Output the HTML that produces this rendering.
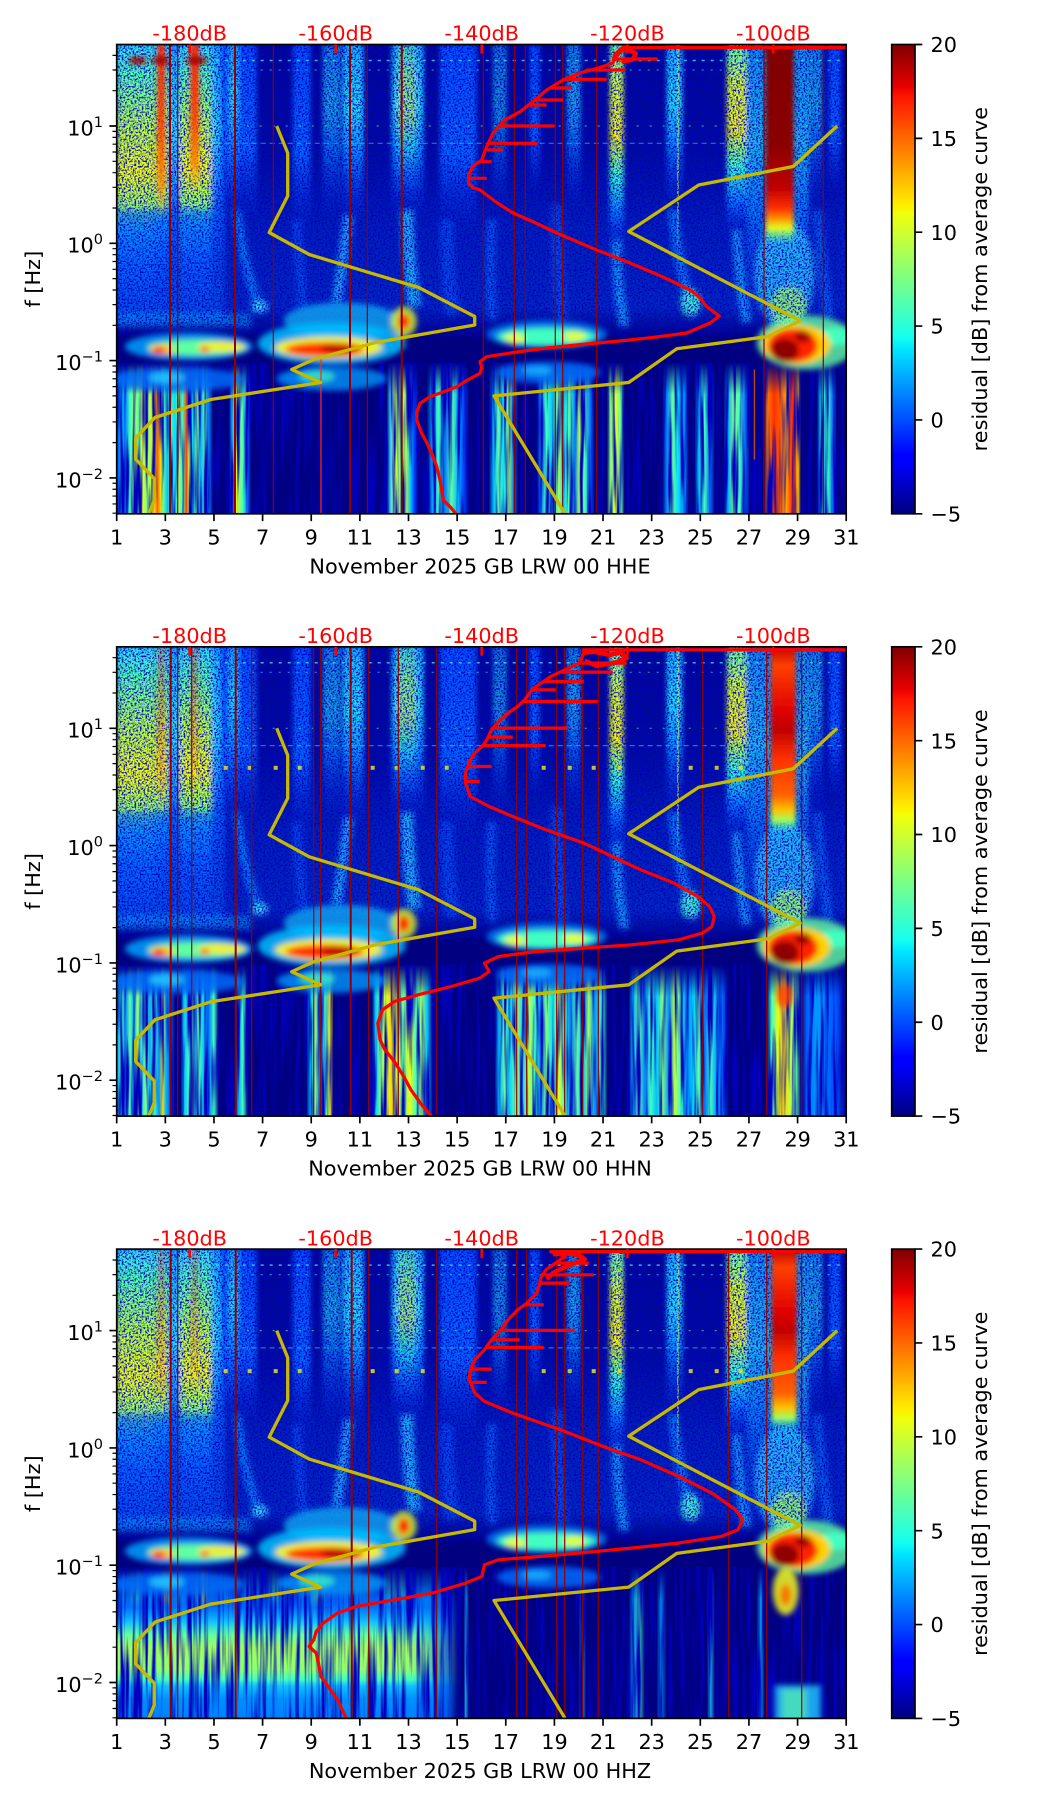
<!DOCTYPE html>
<html><head><meta charset="utf-8"><style>
html,body{margin:0;padding:0;background:#fff;}
svg{display:block;}
text{font-family:"DejaVu Sans","Liberation Sans",sans-serif;font-size:20.8px;fill:#000;}
</style></head><body>
<svg width="1052" height="1806" viewBox="0 0 1052 1806" xmlns="http://www.w3.org/2000/svg">
<defs>
<clipPath id="clip"><rect x="0" y="0" width="729.5" height="469.3"/></clipPath>
<linearGradient id="jet" x1="0" y1="1" x2="0" y2="0">
<stop offset="0" stop-color="#000080"/><stop offset=".11" stop-color="#0000ff"/><stop offset=".125" stop-color="#0000ff"/><stop offset=".34" stop-color="#00dbff"/><stop offset=".35" stop-color="#00e5ff"/><stop offset=".375" stop-color="#14fff0"/><stop offset=".64" stop-color="#f0ff0b"/><stop offset=".65" stop-color="#f7f600"/><stop offset=".66" stop-color="#ffec00"/><stop offset=".89" stop-color="#ff1300"/><stop offset=".91" stop-color="#e80000"/><stop offset="1" stop-color="#800000"/>
</linearGradient>
<linearGradient id="haze" gradientUnits="userSpaceOnUse" x1="0" y1="0" x2="0" y2="292">
<stop offset="0" stop-color="#0018c8" stop-opacity=".22"/><stop offset=".35" stop-color="#0028e0" stop-opacity=".28"/><stop offset=".62" stop-color="#0040f0" stop-opacity=".5"/><stop offset=".9" stop-color="#0050ff" stop-opacity=".5"/><stop offset="1" stop-color="#0050ff" stop-opacity="0"/>
</linearGradient>
<linearGradient id="gL" x1="0" y1="0" x2="0" y2="1">
<stop offset="0" stop-color="#30e0ff"/><stop offset=".1" stop-color="#50ffb0"/><stop offset=".28" stop-color="#b0ff50"/><stop offset=".45" stop-color="#f0ff10"/><stop offset=".58" stop-color="#90ff70"/><stop offset=".66" stop-color="#00c0ff"/><stop offset=".78" stop-color="#0060ff"/><stop offset="1" stop-color="#0040ff" stop-opacity="0"/>
</linearGradient>
<linearGradient id="gC" x1="0" y1="0" x2="0" y2="1">
<stop offset="0" stop-color="#10b0ff"/><stop offset=".35" stop-color="#20e0ff"/><stop offset=".6" stop-color="#0090ff"/><stop offset="1" stop-color="#0040ff" stop-opacity="0"/>
</linearGradient>
<linearGradient id="gB" x1="0" y1="0" x2="0" y2="1">
<stop offset="0" stop-color="#0050ff"/><stop offset=".6" stop-color="#0064ff"/><stop offset="1" stop-color="#0040ff" stop-opacity="0"/>
</linearGradient>
<linearGradient id="gY" x1="0" y1="0" x2="0" y2="1">
<stop offset="0" stop-color="#60ffa0"/><stop offset=".2" stop-color="#d0ff30"/><stop offset=".45" stop-color="#f0f010"/><stop offset=".65" stop-color="#30ffd0"/><stop offset=".82" stop-color="#0080ff"/><stop offset="1" stop-color="#0040ff" stop-opacity="0"/>
</linearGradient>
<linearGradient id="gCore" x1="0" y1="0" x2="0" y2="1">
<stop offset="0" stop-color="#ff2000"/><stop offset=".5" stop-color="#ff4000"/><stop offset=".8" stop-color="#ff9000"/><stop offset="1" stop-color="#ffd000" stop-opacity="0"/>
</linearGradient>
<linearGradient id="gR1" x1="0" y1="0" x2="0" y2="1">
<stop offset="0" stop-color="#800000"/><stop offset=".5" stop-color="#8a0000"/><stop offset=".72" stop-color="#c00000"/><stop offset=".82" stop-color="#ff3000"/><stop offset=".87" stop-color="#ff9000"/><stop offset=".92" stop-color="#e0ff20"/><stop offset="1" stop-color="#40ffc0" stop-opacity="0"/>
</linearGradient>
<linearGradient id="gR2" x1="0" y1="0" x2="0" y2="1">
<stop offset="0" stop-color="#c00000"/><stop offset=".1" stop-color="#ff4000"/><stop offset=".35" stop-color="#e00000"/><stop offset=".45" stop-color="#c00000"/><stop offset=".6" stop-color="#ff3000"/><stop offset=".8" stop-color="#ff6000"/><stop offset=".88" stop-color="#ffc000"/><stop offset=".94" stop-color="#a0ff60"/><stop offset="1" stop-color="#40ffc0" stop-opacity="0"/>
</linearGradient>
<linearGradient id="mloG" gradientUnits="userSpaceOnUse" x1="0" y1="318" x2="0" y2="350">
<stop offset="0" stop-color="#fff" stop-opacity="0"/><stop offset="1" stop-color="#fff" stop-opacity="1"/>
</linearGradient>
<mask id="mlo" maskUnits="userSpaceOnUse" x="0" y="0" width="729.5" height="469.3"><rect x="0" y="300" width="729.5" height="170" fill="url(#mloG)"/></mask>
<linearGradient id="mblG" gradientUnits="userSpaceOnUse" x1="295" y1="0" x2="345" y2="0">
<stop offset="0" stop-color="#fff" stop-opacity="1"/><stop offset="1" stop-color="#fff" stop-opacity="0"/>
</linearGradient>
<mask id="mbl" maskUnits="userSpaceOnUse" x="0" y="0" width="729.5" height="469.3"><rect x="0" y="330" width="360" height="140" fill="url(#mblG)"/></mask>
<linearGradient id="bl3" gradientUnits="userSpaceOnUse" x1="0" y1="340" x2="0" y2="469.3">
<stop offset="0" stop-color="#0060ff" stop-opacity="0"/><stop offset=".14" stop-color="#0070ff" stop-opacity=".9"/><stop offset=".25" stop-color="#10c0ff"/><stop offset=".35" stop-color="#60ffa0"/><stop offset=".45" stop-color="#a0ff60"/><stop offset=".62" stop-color="#90ff70"/><stop offset=".7" stop-color="#40ffc0"/><stop offset=".75" stop-color="#10c0ff"/><stop offset=".85" stop-color="#0090ff"/><stop offset="1" stop-color="#0080ff"/>
</linearGradient>
<linearGradient id="lo1" gradientUnits="userSpaceOnUse" x1="0" y1="0" x2="729.5" y2="0">
<stop offset="0%" stop-color="#0040ff"/><stop offset="0.7%" stop-color="#00c0ff"/><stop offset="1.2%" stop-color="#0080ff"/><stop offset="1.8%" stop-color="#40ffc0"/><stop offset="2.5%" stop-color="#a0ff60"/><stop offset="3.0%" stop-color="#60ffa0"/><stop offset="3.6%" stop-color="#e0ff20"/><stop offset="4.1%" stop-color="#80ff80"/><stop offset="4.7%" stop-color="#c0ff40"/><stop offset="5.2%" stop-color="#ffd000"/><stop offset="5.6%" stop-color="#ff6000"/><stop offset="6.0%" stop-color="#ffe000"/><stop offset="6.4%" stop-color="#60ffa0"/><stop offset="7.0%" stop-color="#00c0ff"/><stop offset="7.4%" stop-color="#40ffc0"/><stop offset="8.0%" stop-color="#00e0ff"/><stop offset="8.5%" stop-color="#a0ff60"/><stop offset="9.0%" stop-color="#40ffc0"/><stop offset="9.6%" stop-color="#ff4000"/><stop offset="9.9%" stop-color="#c0ff40"/><stop offset="10.4%" stop-color="#00e0ff"/><stop offset="11.0%" stop-color="#80ff80"/><stop offset="11.5%" stop-color="#00b0ff"/><stop offset="12.1%" stop-color="#60ffa0"/><stop offset="12.6%" stop-color="#0080ff"/><stop offset="13.2%" stop-color="#000080"/><stop offset="15.4%" stop-color="#000080"/><stop offset="15.8%" stop-color="#00a0ff"/><stop offset="16.4%" stop-color="#e0ff20"/><stop offset="17.3%" stop-color="#40ffc0"/><stop offset="18.0%" stop-color="#0060ff"/><stop offset="18.4%" stop-color="#000080"/><stop offset="37.0%" stop-color="#000080"/><stop offset="37.6%" stop-color="#40e0ff"/><stop offset="38.2%" stop-color="#e0ff20"/><stop offset="38.9%" stop-color="#60ffa0"/><stop offset="39.6%" stop-color="#c0ff40"/><stop offset="40.3%" stop-color="#00c0ff"/><stop offset="40.8%" stop-color="#0040ff"/><stop offset="41.4%" stop-color="#000080"/><stop offset="42.5%" stop-color="#000080"/><stop offset="43.3%" stop-color="#00a0ff"/><stop offset="44.1%" stop-color="#40ffc0"/><stop offset="45.0%" stop-color="#0080ff"/><stop offset="45.9%" stop-color="#60ffa0"/><stop offset="46.7%" stop-color="#00c0ff"/><stop offset="47.6%" stop-color="#0040ff"/><stop offset="48.3%" stop-color="#000080"/><stop offset="51.0%" stop-color="#000080"/><stop offset="51.7%" stop-color="#00c0ff"/><stop offset="52.4%" stop-color="#60ffa0"/><stop offset="53.0%" stop-color="#00e0ff"/><stop offset="53.7%" stop-color="#a0ff60"/><stop offset="54.4%" stop-color="#0080ff"/><stop offset="55.0%" stop-color="#000080"/><stop offset="57.6%" stop-color="#000080"/><stop offset="58.1%" stop-color="#0080ff"/><stop offset="58.9%" stop-color="#40ffc0"/><stop offset="59.8%" stop-color="#00c0ff"/><stop offset="60.6%" stop-color="#a0ff60"/><stop offset="61.3%" stop-color="#00e0ff"/><stop offset="62.0%" stop-color="#60ffa0"/><stop offset="62.8%" stop-color="#0090ff"/><stop offset="63.5%" stop-color="#c0ff40"/><stop offset="64.2%" stop-color="#40ffc0"/><stop offset="65.0%" stop-color="#0060ff"/><stop offset="65.5%" stop-color="#000080"/><stop offset="67.2%" stop-color="#000080"/><stop offset="67.7%" stop-color="#80ff80"/><stop offset="68.4%" stop-color="#e0ff20"/><stop offset="69.1%" stop-color="#60ffa0"/><stop offset="69.6%" stop-color="#000080"/><stop offset="74.8%" stop-color="#000080"/><stop offset="75.4%" stop-color="#0080ff"/><stop offset="76.2%" stop-color="#60ffa0"/><stop offset="77.0%" stop-color="#00e0ff"/><stop offset="77.9%" stop-color="#0080ff"/><stop offset="78.4%" stop-color="#000080"/><stop offset="79.2%" stop-color="#000080"/><stop offset="79.8%" stop-color="#00c0ff"/><stop offset="80.6%" stop-color="#40ffc0"/><stop offset="81.4%" stop-color="#0060ff"/><stop offset="82.0%" stop-color="#000080"/><stop offset="83.2%" stop-color="#000080"/><stop offset="83.8%" stop-color="#00b0ff"/><stop offset="84.6%" stop-color="#80ff80"/><stop offset="85.4%" stop-color="#40ffc0"/><stop offset="86.2%" stop-color="#0060ff"/><stop offset="86.8%" stop-color="#000080"/><stop offset="88.8%" stop-color="#000080"/><stop offset="89.2%" stop-color="#ff8000"/><stop offset="90.1%" stop-color="#ff3000"/><stop offset="91.0%" stop-color="#ff6000"/><stop offset="91.8%" stop-color="#ffa000"/><stop offset="92.7%" stop-color="#ff2000"/><stop offset="93.4%" stop-color="#ffc000"/><stop offset="93.8%" stop-color="#000080"/><stop offset="96.0%" stop-color="#000080"/><stop offset="96.5%" stop-color="#00c0ff"/><stop offset="97.5%" stop-color="#40ffc0"/><stop offset="98.2%" stop-color="#0060ff"/><stop offset="98.7%" stop-color="#000080"/><stop offset="100%" stop-color="#000080"/>
</linearGradient>
<linearGradient id="lo2" gradientUnits="userSpaceOnUse" x1="0" y1="0" x2="729.5" y2="0">
<stop offset="0%" stop-color="#00a0ff"/><stop offset="0.7%" stop-color="#40ffc0"/><stop offset="1.2%" stop-color="#0080ff"/><stop offset="1.8%" stop-color="#60ffa0"/><stop offset="2.3%" stop-color="#00c0ff"/><stop offset="2.9%" stop-color="#a0ff60"/><stop offset="3.4%" stop-color="#20e0ff"/><stop offset="4.0%" stop-color="#80ff80"/><stop offset="4.5%" stop-color="#00b0ff"/><stop offset="5.2%" stop-color="#40ffc0"/><stop offset="5.8%" stop-color="#0090ff"/><stop offset="6.3%" stop-color="#ffe000"/><stop offset="6.7%" stop-color="#00c0ff"/><stop offset="7.3%" stop-color="#0060ff"/><stop offset="8.0%" stop-color="#000080"/><stop offset="8.8%" stop-color="#000080"/><stop offset="9.2%" stop-color="#00c0ff"/><stop offset="9.9%" stop-color="#40ffc0"/><stop offset="10.6%" stop-color="#0090ff"/><stop offset="11.2%" stop-color="#60ffa0"/><stop offset="11.9%" stop-color="#00d0ff"/><stop offset="12.6%" stop-color="#0070ff"/><stop offset="13.3%" stop-color="#40ffc0"/><stop offset="14.0%" stop-color="#000080"/><stop offset="16.2%" stop-color="#000080"/><stop offset="16.6%" stop-color="#00a0ff"/><stop offset="17.3%" stop-color="#40ffc0"/><stop offset="18.0%" stop-color="#000080"/><stop offset="26.0%" stop-color="#000080"/><stop offset="26.6%" stop-color="#00c0ff"/><stop offset="27.3%" stop-color="#80ff80"/><stop offset="28.0%" stop-color="#0080ff"/><stop offset="28.6%" stop-color="#40ffc0"/><stop offset="29.3%" stop-color="#ffe000"/><stop offset="29.7%" stop-color="#000080"/><stop offset="35.0%" stop-color="#000080"/><stop offset="35.5%" stop-color="#00d0ff"/><stop offset="36.2%" stop-color="#80ff80"/><stop offset="37.0%" stop-color="#e0ff20"/><stop offset="37.8%" stop-color="#ffd000"/><stop offset="38.5%" stop-color="#c0ff40"/><stop offset="39.3%" stop-color="#60ffa0"/><stop offset="40.2%" stop-color="#f0ff10"/><stop offset="41.0%" stop-color="#40ffc0"/><stop offset="41.8%" stop-color="#a0ff60"/><stop offset="42.6%" stop-color="#00c0ff"/><stop offset="43.3%" stop-color="#000080"/><stop offset="51.8%" stop-color="#000080"/><stop offset="52.4%" stop-color="#00b0ff"/><stop offset="53.2%" stop-color="#60ffa0"/><stop offset="54.0%" stop-color="#00e0ff"/><stop offset="54.8%" stop-color="#a0ff60"/><stop offset="55.7%" stop-color="#20d0ff"/><stop offset="56.5%" stop-color="#c0ff40"/><stop offset="57.3%" stop-color="#40ffc0"/><stop offset="58.1%" stop-color="#0090ff"/><stop offset="58.9%" stop-color="#80ff80"/><stop offset="59.8%" stop-color="#00e0ff"/><stop offset="60.6%" stop-color="#e0ff20"/><stop offset="61.4%" stop-color="#40ffc0"/><stop offset="62.2%" stop-color="#0080ff"/><stop offset="63.1%" stop-color="#60ffa0"/><stop offset="63.9%" stop-color="#00c0ff"/><stop offset="64.7%" stop-color="#a0ff60"/><stop offset="65.5%" stop-color="#0090ff"/><stop offset="66.5%" stop-color="#40ffc0"/><stop offset="67.3%" stop-color="#000080"/><stop offset="70.2%" stop-color="#000080"/><stop offset="70.7%" stop-color="#00a0ff"/><stop offset="71.6%" stop-color="#60ffa0"/><stop offset="72.4%" stop-color="#0080ff"/><stop offset="73.2%" stop-color="#40ffc0"/><stop offset="74.0%" stop-color="#00c0ff"/><stop offset="74.8%" stop-color="#80ff80"/><stop offset="75.7%" stop-color="#0090ff"/><stop offset="76.5%" stop-color="#c0ff40"/><stop offset="77.3%" stop-color="#40ffc0"/><stop offset="78.1%" stop-color="#0080ff"/><stop offset="79.0%" stop-color="#00d0ff"/><stop offset="79.8%" stop-color="#60ffa0"/><stop offset="80.6%" stop-color="#0070ff"/><stop offset="81.4%" stop-color="#40ffc0"/><stop offset="82.2%" stop-color="#00a0ff"/><stop offset="83.1%" stop-color="#0060ff"/><stop offset="83.9%" stop-color="#000080"/><stop offset="89.1%" stop-color="#000080"/><stop offset="89.8%" stop-color="#40ffc0"/><stop offset="90.6%" stop-color="#e0ff20"/><stop offset="91.4%" stop-color="#ffd000"/><stop offset="92.3%" stop-color="#c0ff40"/><stop offset="93.1%" stop-color="#60ffa0"/><stop offset="93.8%" stop-color="#000080"/><stop offset="94.6%" stop-color="#0060ff"/><stop offset="96.0%" stop-color="#00a0ff"/><stop offset="97.3%" stop-color="#0070ff"/><stop offset="98.7%" stop-color="#0050ff"/><stop offset="100%" stop-color="#000080"/>
</linearGradient>
<linearGradient id="lo3" gradientUnits="userSpaceOnUse" x1="0" y1="0" x2="729.5" y2="0">
<stop offset="0%" stop-color="#0060ff"/><stop offset="0.8%" stop-color="#00c0ff"/><stop offset="1.6%" stop-color="#0070ff"/><stop offset="2.7%" stop-color="#40ffc0"/><stop offset="3.6%" stop-color="#0080ff"/><stop offset="4.7%" stop-color="#00c0ff"/><stop offset="5.8%" stop-color="#0070ff"/><stop offset="6.6%" stop-color="#ffa000"/><stop offset="7.1%" stop-color="#e0ff20"/><stop offset="7.7%" stop-color="#0090ff"/><stop offset="8.8%" stop-color="#00c0ff"/><stop offset="9.9%" stop-color="#0060ff"/><stop offset="11.2%" stop-color="#40ffc0"/><stop offset="12.1%" stop-color="#ffe000"/><stop offset="12.6%" stop-color="#0080ff"/><stop offset="13.7%" stop-color="#0060ff"/><stop offset="15.1%" stop-color="#00a0ff"/><stop offset="16.4%" stop-color="#0060ff"/><stop offset="18.5%" stop-color="#00b0ff"/><stop offset="20.6%" stop-color="#0060ff"/><stop offset="21.9%" stop-color="#40ffc0"/><stop offset="22.8%" stop-color="#0070ff"/><stop offset="24.7%" stop-color="#0060ff"/><stop offset="26.7%" stop-color="#00c0ff"/><stop offset="27.8%" stop-color="#e0ff20"/><stop offset="28.5%" stop-color="#0070ff"/><stop offset="30.2%" stop-color="#0060ff"/><stop offset="32.9%" stop-color="#00a0ff"/><stop offset="35.6%" stop-color="#0060ff"/><stop offset="38.4%" stop-color="#40ffc0"/><stop offset="40.4%" stop-color="#0070ff"/><stop offset="42.5%" stop-color="#00a0ff"/><stop offset="45.2%" stop-color="#0060ff"/><stop offset="46.6%" stop-color="#000080"/><stop offset="47.6%" stop-color="#000080"/><stop offset="47.8%" stop-color="#20d0ff"/><stop offset="48.3%" stop-color="#000080"/><stop offset="63.3%" stop-color="#000080"/><stop offset="63.9%" stop-color="#00c0ff"/><stop offset="64.3%" stop-color="#000080"/><stop offset="70.2%" stop-color="#000080"/><stop offset="70.7%" stop-color="#0090ff"/><stop offset="71.6%" stop-color="#40ffc0"/><stop offset="72.4%" stop-color="#000080"/><stop offset="74.0%" stop-color="#000080"/><stop offset="74.6%" stop-color="#00a0ff"/><stop offset="75.4%" stop-color="#000080"/><stop offset="80.9%" stop-color="#000080"/><stop offset="81.4%" stop-color="#20d0ff"/><stop offset="82.0%" stop-color="#000080"/><stop offset="87.7%" stop-color="#000080"/><stop offset="88.3%" stop-color="#00c0ff"/><stop offset="88.8%" stop-color="#000080"/><stop offset="100%" stop-color="#000080"/>
</linearGradient>
<filter id="bh" x="-10%" y="-10%" width="120%" height="120%"><feGaussianBlur stdDeviation="2.5 1.5"/></filter>
<filter id="b3" x="-20%" y="-20%" width="140%" height="140%"><feGaussianBlur stdDeviation="3"/></filter>
<filter id="spk" filterUnits="userSpaceOnUse" x="0" y="0" width="729.5" height="292">
<feTurbulence type="fractalNoise" baseFrequency="0.55" numOctaves="2" seed="4"/>
<feColorMatrix type="matrix" values="0 0 0 0 0  0 0 0 0 0  0 0 0 0 0.5  -4 0 0 0 2.2"/>
</filter>
<filter id="stk" filterUnits="userSpaceOnUse" x="0" y="318" width="729.5" height="152">
<feTurbulence type="fractalNoise" baseFrequency="0.25 0.01" numOctaves="2" seed="9"/>
<feColorMatrix type="matrix" values="0 0 0 0 0  0 0 0 0 0  0 0 0 0 0.5  -3.5 0 0 0 2.0"/>
</filter>

<g id="upper">
<rect width="729.5" height="469.3" fill="#000080"/>
<rect width="729.5" height="292" fill="url(#haze)"/>
<g filter="url(#bh)">
<rect x="0" y="0" width="38" height="285" fill="url(#gL)"/>
<rect x="38" y="0" width="14" height="270" fill="url(#gL)"/>
<rect x="52" y="0" width="11" height="240" fill="url(#gC)"/>
<rect x="63" y="0" width="32" height="275" fill="url(#gL)"/>
<rect x="95" y="0" width="12" height="230" fill="url(#gC)"/>
<rect x="104" y="0" width="36" height="175" fill="url(#gB)"/>
<rect x="112" y="0" width="10" height="165" fill="url(#gC)"/>
<rect x="176" y="0" width="18" height="185" fill="url(#gB)"/>
<rect x="206" y="0" width="18" height="175" fill="url(#gC)" opacity=".7"/>
<rect x="226" y="0" width="21" height="180" fill="url(#gC)"/>
<rect x="275" y="0" width="32" height="175" fill="url(#gC)"/>
<rect x="281" y="0" width="18" height="160" fill="url(#gY)" opacity=".55"/>
<rect x="323" y="0" width="37" height="185" fill="url(#gB)"/>
<rect x="376" y="0" width="14" height="165" fill="url(#gC)" opacity=".6"/>
<rect x="413" y="0" width="10" height="150" fill="url(#gB)"/>
<rect x="450" y="0" width="14" height="165" fill="url(#gC)" opacity=".7"/>
<rect x="493" y="0" width="14" height="205" fill="url(#gY)"/>
<rect x="550" y="0" width="16" height="165" fill="url(#gC)"/>
<rect x="610" y="0" width="20" height="190" fill="url(#gY)"/>
<rect x="630" y="0" width="62" height="280" fill="url(#gC)" opacity=".8"/>
<rect x="692" y="0" width="14" height="165" fill="url(#gC)" opacity=".7"/>
<rect x="712" y="0" width="12" height="150" fill="url(#gB)"/>
</g>
<rect x="560.5" y="0" width="1.5" height="200" fill="#e0e040" opacity=".8"/>
<g filter="url(#b3)" fill="none">
<rect x="0" y="165" width="108" height="112" fill="#0068ff" opacity=".55"/>
<rect x="0" y="268" width="135" height="15" fill="#00b0ff" opacity=".5"/>
<path d="M120 165Q128 230 143 262" stroke="#0090ff" stroke-width="9" opacity=".8"/>
<ellipse cx="143" cy="262" rx="8" ry="6" fill="#30e0ff"/>
<path d="M232 170Q225 225 220 258" stroke="#20c0ff" stroke-width="10" opacity=".8"/>
<path d="M290 165Q292 225 298 262" stroke="#20d0ff" stroke-width="13" opacity=".8"/>
<path d="M375 175Q372 230 376 275" stroke="#0070ff" stroke-width="9" opacity=".7"/>
<path d="M500 195Q500 245 508 282" stroke="#10b0ff" stroke-width="10" opacity=".8"/>
<path d="M556 165Q562 220 572 255" stroke="#0090ff" stroke-width="10" opacity=".8"/>
<ellipse cx="574" cy="258" rx="10" ry="14" fill="#40ffd0" opacity=".9"/>
<path d="M620 185Q622 235 630 278" stroke="#10b0ff" stroke-width="10" opacity=".8"/>
<path d="M440 160Q440 220 445 275" stroke="#0060ff" stroke-width="12" opacity=".6"/>
<path d="M330 175Q330 225 336 270" stroke="#0060ff" stroke-width="14" opacity=".6"/>
<path d="M180 175Q183 225 186 265" stroke="#0060ff" stroke-width="10" opacity=".6"/>
<path d="M700 165Q705 220 712 275" stroke="#0080ff" stroke-width="10" opacity=".6"/>
<ellipse cx="668" cy="230" rx="30" ry="55" fill="#30e0ff" opacity=".7"/>
<ellipse cx="672" cy="262" rx="18" ry="20" fill="#a0ff60" opacity=".8"/>
</g>
<rect width="729.5" height="292" filter="url(#spk)"/>
<g fill="none">
<line x1="0" y1="16" x2="729.5" y2="16" stroke="#40e0ff" stroke-width="1.5" stroke-dasharray="3 6" opacity=".8"/>
<line x1="0" y1="25.5" x2="729.5" y2="25.5" stroke="#20c0ff" stroke-width="1.2" stroke-dasharray="2 7" opacity=".7"/>
<line x1="0" y1="81.5" x2="729.5" y2="81.5" stroke="#60ffa0" stroke-width="1.2" stroke-dasharray="2 11" opacity=".6"/>
<line x1="0" y1="98.8" x2="729.5" y2="98.8" stroke="#30c0ff" stroke-width="1.2" stroke-dasharray="5 4" opacity=".6"/>
</g>
</g>

<g id="band" filter="url(#b3)">
<ellipse cx="60" cy="335" rx="68" ry="12" fill="#0070ff" opacity=".8"/>
<ellipse cx="50" cy="333" rx="18" ry="6" fill="#20d0ff" opacity=".8"/>
<ellipse cx="215" cy="334" rx="55" ry="12" fill="#00a0ff" opacity=".75"/>
<ellipse cx="200" cy="332" rx="18" ry="6" fill="#40ffc0" opacity=".7"/>
<ellipse cx="432" cy="328" rx="52" ry="11" fill="#0070ff" opacity=".8"/>
<ellipse cx="420" cy="326" rx="15" ry="5" fill="#20c0ff" opacity=".7"/>
<ellipse cx="72" cy="302" rx="64" ry="14" fill="#00a0ff" opacity=".85"/>
<ellipse cx="80" cy="303" rx="50" ry="8" fill="#60ffa0"/>
<ellipse cx="105" cy="302" rx="24" ry="5" fill="#f0f020"/>
<ellipse cx="45" cy="305" rx="12" ry="5" fill="#ffc000"/>
<ellipse cx="42" cy="306" rx="6" ry="3.5" fill="#ff2000"/>
<ellipse cx="88" cy="305" rx="5" ry="3" fill="#ff5000"/>
<ellipse cx="225" cy="276" rx="58" ry="18" fill="#10c8ff" opacity=".65"/>
<ellipse cx="215" cy="299" rx="74" ry="21" fill="#00c0ff" opacity=".85"/>
<ellipse cx="212" cy="303" rx="54" ry="11" fill="#f0f020"/>
<ellipse cx="208" cy="305" rx="39" ry="7" fill="#ff3000"/>
<ellipse cx="222" cy="304" rx="18" ry="5" fill="#c00000"/>
<ellipse cx="287" cy="277" rx="13" ry="15" fill="#e0ff20" opacity=".8"/>
<ellipse cx="287" cy="277" rx="6" ry="8" fill="#ff2000"/>
<ellipse cx="430" cy="290" rx="60" ry="14" fill="#0090ff" opacity=".75"/>
<ellipse cx="430" cy="292" rx="50" ry="9" fill="#40ffc0"/>
<ellipse cx="398" cy="294" rx="10" ry="5" fill="#e0ff30"/>
<ellipse cx="458" cy="292" rx="11" ry="5" fill="#e0ff30"/>
<ellipse cx="690" cy="298" rx="50" ry="27" fill="#60ffa0" opacity=".8"/>
<ellipse cx="718" cy="292" rx="20" ry="9" fill="#40ffc0"/>
<ellipse cx="680" cy="300" rx="34" ry="20" fill="#ffd000"/>
<ellipse cx="676" cy="301" rx="25" ry="17" fill="#ff2000"/>
<ellipse cx="668" cy="306" rx="14" ry="12" fill="#900000"/>
<ellipse cx="686" cy="292" rx="8" ry="6" fill="#a00000"/>
</g>

<g id="models" fill="none" stroke="#c8b900" stroke-width="3.3" stroke-linejoin="round">
<polyline points="160,81.5 171,108.5 171,151.5 152.5,188 192.5,210 302,243 358,272 358,280.5 258.7,298 197,315 175,325 204,338 94,355 38.3,373 19,393.5 19,414.7 37.5,434 37.5,456 31,472"/>
<polyline points="720.5,81.5 676.5,122 582,140.5 512,187 683.5,276.3 651.5,292 560,304.3 512,338 377.3,351.4 450,472"/>
</g>

<g id="axes">
<path d="M-4.2 10.88H0M-4.2 25.53H0M-4.2 46.19H0M-4.2 86.87H0M-4.2 92.87H0M-4.2 99.67H0M-4.2 107.52H0M-4.2 116.81H0M-4.2 128.18H0M-4.2 142.83H0M-4.2 163.49H0M-4.2 204.17H0M-4.2 210.17H0M-4.2 216.97H0M-4.2 224.82H0M-4.2 234.11H0M-4.2 245.48H0M-4.2 260.13H0M-4.2 280.79H0M-4.2 321.47H0M-4.2 327.47H0M-4.2 334.27H0M-4.2 342.12H0M-4.2 351.41H0M-4.2 362.78H0M-4.2 377.43H0M-4.2 398.09H0M-4.2 438.77H0M-4.2 444.77H0M-4.2 451.57H0M-4.2 459.42H0M-4.2 468.71H0" stroke="#000" stroke-width="1.2"/>
<path d="M-7.3 81.5H0M-7.3 198.8H0M-7.3 316.1H0M-7.3 433.4H0" stroke="#000" stroke-width="1.67"/>
<path d="M0 469.3v7.3M48.63 469.3v7.3M97.27 469.3v7.3M145.9 469.3v7.3M194.53 469.3v7.3M243.17 469.3v7.3M291.8 469.3v7.3M340.43 469.3v7.3M389.07 469.3v7.3M437.7 469.3v7.3M486.33 469.3v7.3M534.97 469.3v7.3M583.6 469.3v7.3M632.23 469.3v7.3M680.87 469.3v7.3M729.5 469.3v7.3" stroke="#000" stroke-width="1.67"/>
<rect x="0" y="0" width="729.5" height="469.3" fill="none" stroke="#000" stroke-width="1.67"/>
<path d="M73 0v9M219 0v9M365 0v9M510.7 0v9M656.6 0v9" stroke="#ff0000" stroke-width="2.5"/>
</g>

<g id="cbar">
<rect x="0" y="0" width="23.3" height="469.3" fill="url(#jet)" stroke="#000" stroke-width="1.67"/>
<path d="M23.3 0h7.3M23.3 93.86h7.3M23.3 187.72h7.3M23.3 281.58h7.3M23.3 375.44h7.3M23.3 469.3h7.3" stroke="#000" stroke-width="1.67"/>
</g>
</defs>

<!-- ================= PANEL 1 ================= -->
<g transform="translate(116.7,44.5)">
<g clip-path="url(#clip)">
<use href="#upper"/>
<g filter="url(#bh)">
<rect x="41" y="0" width="7" height="175" fill="url(#gCore)"/>
<rect x="74" y="0" width="8" height="150" fill="url(#gCore)"/>
<rect x="649" y="0" width="28" height="200" fill="url(#gR1)"/>
</g>
<g filter="url(#b3)">
<ellipse cx="21" cy="16" rx="9" ry="4" fill="#a00000"/>
<ellipse cx="44" cy="16" rx="9" ry="4" fill="#a00000"/>
<ellipse cx="80" cy="16" rx="11" ry="4" fill="#a00000"/>
</g>
<rect x="0" y="300" width="729.5" height="170" fill="url(#lo1)" mask="url(#mlo)"/>
<rect x="0" y="318" width="729.5" height="152" filter="url(#stk)"/>
<use href="#band"/>
<rect x="203.5" y="315" width="1.5" height="155" fill="#ff3000" opacity=".8"/>
<rect x="637" y="325" width="1.5" height="90" fill="#ff6000" opacity=".7"/>
<g fill="#900000">
<rect x="52.3" y="0" width="2" height="470"/><rect x="117.3" y="0" width="2" height="470"/><rect x="232.3" y="0" width="2" height="470"/><rect x="284" y="0" width="2" height="470"/>
<rect x="60.4" y="0" width="1.2" height="470"/><rect x="156" y="0" width="1.2" height="470"/><rect x="250" y="0" width="1.2" height="470"/><rect x="366" y="0" width="1.2" height="470"/><rect x="397" y="0" width="1.2" height="470"/><rect x="408" y="0" width="1.2" height="470"/><rect x="438" y="0" width="1.2" height="470"/><rect x="445.4" y="0" width="1.2" height="470"/><rect x="479.4" y="0" width="1.2" height="470"/><rect x="646.7" y="0" width="1.2" height="470"/><rect x="706" y="0" width="1.2" height="470"/>
</g>
<use href="#models"/>
<g fill="none" stroke="#ff0000" stroke-width="3.2" stroke-linejoin="round">
<polyline points="729.5,3 506,3 498,10 496.3,18.5 480,24 463.3,28.5 446.3,35.5 430,45.5 416.3,57.2 403.3,67.2 388.3,75.5 376.3,88.5 370,102.2 365,115.5 356,122 352,130 352,139 356,143 363.3,145.5 380,158 396.3,168.5 418,178 440,188.5 460,197 480,205.5 497,212 513.3,218.5 530,225.5 546.3,232.5 560,239 573.3,245.5 583,253 590,262.2 602.6,271.5 593.3,278.5 570,288.5 540,292.5 513.3,295.5 470,299.5 430,303.5 400,307.5 370,312.2 363.3,317.2 365,323 363.3,328.8 350,336 340,342.2 325,348 313.3,352.2 303.3,358.8 300,368 300,375.5 305,388.8 310,398 315,408.8 320,422 323.3,435.5 326.6,455.5 334,463 341.6,472"/>
<path d="M497 14.5H541M470 25.5H508M448 34.8H490M433 43.5H455M418 55.5H446M411 60.5H430M382 81.5H438M371 98.8H421M369 105.5H386M364 117.2H375M352 133.8H370"/>
<path d="M497 16L503 6L512 5L519 9L516 15L505 17" stroke-width="4.5"/>
</g>
</g>
<use href="#axes"/>
</g>
<use href="#cbar" x="891.7" y="44.5"/>
<text x="189.7" y="40.7" text-anchor="middle" style="fill:#ff0000">-180dB</text>
<text x="335.7" y="40.7" text-anchor="middle" style="fill:#ff0000">-160dB</text>
<text x="481.7" y="40.7" text-anchor="middle" style="fill:#ff0000">-140dB</text>
<text x="627.4" y="40.7" text-anchor="middle" style="fill:#ff0000">-120dB</text>
<text x="773.3" y="40.7" text-anchor="middle" style="fill:#ff0000">-100dB</text>
<text x="103" y="135.4" text-anchor="end">10<tspan font-size="14.5" dy="-8.5">1</tspan></text>
<text x="103" y="252.7" text-anchor="end">10<tspan font-size="14.5" dy="-8.5">0</tspan></text>
<text x="103" y="370" text-anchor="end">10<tspan font-size="14.5" dy="-8.5">−1</tspan></text>
<text x="103" y="487.3" text-anchor="end">10<tspan font-size="14.5" dy="-8.5">−2</tspan></text>
<g text-anchor="middle">
<text x="116.7" y="544.4">1</text><text x="165.3" y="544.4">3</text><text x="214" y="544.4">5</text><text x="262.6" y="544.4">7</text><text x="311.3" y="544.4">9</text><text x="359.9" y="544.4">11</text><text x="408.5" y="544.4">13</text><text x="457.2" y="544.4">15</text><text x="505.8" y="544.4">17</text><text x="554.5" y="544.4">19</text><text x="603.1" y="544.4">21</text><text x="651.7" y="544.4">23</text><text x="700.4" y="544.4">25</text><text x="749" y="544.4">27</text><text x="797.7" y="544.4">29</text><text x="846.3" y="544.4">31</text>
<text x="480" y="573.3">November 2025 GB LRW 00 HHE</text>
<text transform="translate(40,279.15) rotate(-90)">f [Hz]</text>
<text transform="translate(987,279.15) rotate(-90)">residual [dB] from average curve</text>
</g>
<text x="930.5" y="52.1">20</text><text x="930.5" y="146">15</text><text x="930.5" y="239.8">10</text><text x="930.5" y="333.7">5</text><text x="930.5" y="427.5">0</text><text x="930.5" y="521.4">−5</text>

<!-- ================= PANEL 2 ================= -->
<g transform="translate(116.7,646.8)">
<g clip-path="url(#clip)">
<use href="#upper"/>
<g filter="url(#bh)">
<rect x="41" y="0" width="7" height="175" fill="url(#gCore)" opacity=".35"/>
<rect x="74" y="0" width="8" height="150" fill="url(#gCore)" opacity=".3"/>
<rect x="654" y="0" width="25" height="185" fill="url(#gR2)"/>
</g>
<g fill="#e8e020" opacity=".85">
<rect x="107" y="119" width="4" height="4"/><rect x="131" y="119" width="4" height="4"/><rect x="157" y="119" width="4" height="4"/><rect x="181" y="119" width="4" height="4"/><rect x="254" y="119" width="4" height="4"/><rect x="278" y="119" width="4" height="4"/><rect x="304" y="119" width="4" height="4"/><rect x="328" y="119" width="4" height="4"/><rect x="425" y="119" width="4" height="4"/><rect x="451" y="119" width="4" height="4"/><rect x="475" y="119" width="4" height="4"/><rect x="501" y="119" width="4" height="4"/><rect x="572" y="119" width="4" height="4"/><rect x="598" y="119" width="4" height="4"/><rect x="622" y="119" width="4" height="4"/>
</g>
<rect x="0" y="300" width="729.5" height="170" fill="url(#lo2)" mask="url(#mlo)"/>
<rect x="0" y="318" width="729.5" height="152" filter="url(#stk)"/>
<use href="#band"/>
<g filter="url(#b3)"><ellipse cx="668" cy="349" rx="8" ry="12" fill="#ff4000" opacity=".85"/></g>
<g fill="#900000">
<rect x="53" y="0" width="2" height="470"/><rect x="118" y="0" width="2" height="470"/><rect x="233" y="0" width="2" height="470"/>
<rect x="60.4" y="0" width="1.2" height="470"/><rect x="74.4" y="0" width="1.2" height="470"/><rect x="134.4" y="0" width="1.2" height="470"/><rect x="196.4" y="0" width="1.2" height="470"/><rect x="203.4" y="0" width="1.2" height="470"/><rect x="251.4" y="0" width="1.2" height="470"/><rect x="281" y="0" width="1.2" height="470"/><rect x="319.4" y="0" width="1.2" height="470"/><rect x="399.4" y="0" width="1.2" height="470"/><rect x="409.4" y="0" width="1.2" height="470"/><rect x="439.4" y="0" width="1.2" height="470"/><rect x="447.4" y="0" width="1.2" height="470"/><rect x="465.4" y="0" width="1.2" height="470"/><rect x="481" y="0" width="1.2" height="470"/><rect x="585.4" y="0" width="1.2" height="470"/><rect x="649.4" y="0" width="1.2" height="470"/><rect x="684.4" y="0" width="1.2" height="470"/>
</g>
<use href="#models"/>
<g fill="none" stroke="#ff0000" stroke-width="3.2" stroke-linejoin="round">
<polyline points="729.5,3 467,3 467.2,6.3 462.5,16.3 448.3,23 434.1,29.7 424.6,36.3 415.1,43 408,53 400.9,59.7 391.4,66.3 382,74.7 374.8,83 370.1,93 365.3,99.7 358.2,106.3 353.5,113 348.8,126.3 348.8,136.3 353.5,149.7 372.4,159.7 396.1,169.7 429.3,183 467.2,196.3 495.7,209.7 524.1,223 557.3,236.3 581,249.7 592.8,259.7 597.6,269.7 595.2,279.7 585.7,286.3 562,293 514.6,298 467.2,301.3 419.8,304.7 381.9,309.7 367.7,316.3 372.4,324.7 363,331.3 334.5,339.7 301.4,348 277.7,354.7 265.8,363 261.1,376.3 263.4,393 268.2,403 277.7,414.7 287.1,429.7 294.2,443 303.7,456.3 317,472"/>
<path d="M462 16.3H510M444 25.3H496M427 34.7H467M415 43H439M407 54.7H481M376 81.3H451M371 90.3H396M366 98.7H429M351 119.7H375M349 134.7H363"/>
<path d="M466 6L478 5L492 8L505 6L510 11L498 16L480 19L468 14" stroke-width="4.5"/>
</g>
</g>
<use href="#axes"/>
</g>
<use href="#cbar" x="891.7" y="646.8"/>
<text x="189.7" y="643" text-anchor="middle" style="fill:#ff0000">-180dB</text>
<text x="335.7" y="643" text-anchor="middle" style="fill:#ff0000">-160dB</text>
<text x="481.7" y="643" text-anchor="middle" style="fill:#ff0000">-140dB</text>
<text x="627.4" y="643" text-anchor="middle" style="fill:#ff0000">-120dB</text>
<text x="773.3" y="643" text-anchor="middle" style="fill:#ff0000">-100dB</text>
<text x="103" y="737.7" text-anchor="end">10<tspan font-size="14.5" dy="-8.5">1</tspan></text>
<text x="103" y="855" text-anchor="end">10<tspan font-size="14.5" dy="-8.5">0</tspan></text>
<text x="103" y="972.3" text-anchor="end">10<tspan font-size="14.5" dy="-8.5">−1</tspan></text>
<text x="103" y="1089.6" text-anchor="end">10<tspan font-size="14.5" dy="-8.5">−2</tspan></text>
<g text-anchor="middle">
<text x="116.7" y="1146.7">1</text><text x="165.3" y="1146.7">3</text><text x="214" y="1146.7">5</text><text x="262.6" y="1146.7">7</text><text x="311.3" y="1146.7">9</text><text x="359.9" y="1146.7">11</text><text x="408.5" y="1146.7">13</text><text x="457.2" y="1146.7">15</text><text x="505.8" y="1146.7">17</text><text x="554.5" y="1146.7">19</text><text x="603.1" y="1146.7">21</text><text x="651.7" y="1146.7">23</text><text x="700.4" y="1146.7">25</text><text x="749" y="1146.7">27</text><text x="797.7" y="1146.7">29</text><text x="846.3" y="1146.7">31</text>
<text x="480" y="1175.6">November 2025 GB LRW 00 HHN</text>
<text transform="translate(40,881.45) rotate(-90)">f [Hz]</text>
<text transform="translate(987,881.45) rotate(-90)">residual [dB] from average curve</text>
</g>
<text x="930.5" y="654.4">20</text><text x="930.5" y="748.3">15</text><text x="930.5" y="842.1">10</text><text x="930.5" y="936">5</text><text x="930.5" y="1029.8">0</text><text x="930.5" y="1123.7">−5</text>

<!-- ================= PANEL 3 ================= -->
<g transform="translate(116.7,1249.1)">
<g clip-path="url(#clip)">
<use href="#upper"/>
<g filter="url(#bh)">
<rect x="41" y="0" width="7" height="175" fill="url(#gCore)" opacity=".3"/>
<rect x="74" y="0" width="8" height="150" fill="url(#gCore)" opacity=".25"/>
<rect x="655" y="0" width="25" height="180" fill="url(#gR2)"/>
</g>
<g fill="#e8e020" opacity=".85">
<rect x="107" y="120" width="4" height="4"/><rect x="131" y="120" width="4" height="4"/><rect x="157" y="120" width="4" height="4"/><rect x="181" y="120" width="4" height="4"/><rect x="254" y="120" width="4" height="4"/><rect x="278" y="120" width="4" height="4"/><rect x="304" y="120" width="4" height="4"/><rect x="425" y="120" width="4" height="4"/><rect x="451" y="120" width="4" height="4"/><rect x="475" y="120" width="4" height="4"/><rect x="501" y="120" width="4" height="4"/><rect x="572" y="120" width="4" height="4"/><rect x="598" y="120" width="4" height="4"/><rect x="622" y="120" width="4" height="4"/>
</g>
<rect x="0" y="300" width="729.5" height="170" fill="url(#lo3)" mask="url(#mlo)" opacity=".8"/>
<rect x="0" y="340" width="360" height="130" fill="url(#bl3)" mask="url(#mbl)"/>
<rect x="0" y="318" width="729.5" height="152" filter="url(#stk)"/>
<use href="#band"/>
<g filter="url(#b3)">
<ellipse cx="669" cy="342" rx="13" ry="24" fill="#e8f020" opacity=".9"/>
<ellipse cx="669" cy="346" rx="6" ry="11" fill="#ff6000" opacity=".8"/>
<rect x="658" y="436" width="46" height="40" fill="#20c0ff" opacity=".85"/>
<rect x="665" y="440" width="25" height="35" fill="#60ffa0" opacity=".6"/>
</g>
<g fill="#900000">
<rect x="53" y="0" width="2" height="470"/><rect x="118" y="0" width="2" height="470"/><rect x="234" y="0" width="2" height="470"/>
<rect x="60.4" y="0" width="1.2" height="470"/><rect x="251.4" y="0" width="1.2" height="470"/><rect x="319.4" y="0" width="1.2" height="470"/><rect x="399.4" y="0" width="1.2" height="470"/><rect x="409.4" y="0" width="1.2" height="470"/><rect x="439.4" y="0" width="1.2" height="470"/><rect x="447.4" y="0" width="1.2" height="470"/><rect x="465.4" y="0" width="1.2" height="470"/><rect x="481" y="0" width="1.2" height="470"/><rect x="611.4" y="0" width="1.2" height="470"/><rect x="649.4" y="0" width="1.2" height="470"/><rect x="684.4" y="0" width="1.2" height="470"/>
</g>
<use href="#models"/>
<g fill="none" stroke="#ff0000" stroke-width="3.2" stroke-linejoin="round">
<polyline points="729.5,2.5 434,2.5 448.3,7.3 438.8,14 429.3,20.7 424.6,27.3 422.2,37.3 419.8,44 410.4,54 400.9,60.7 391.4,70.7 384.3,80.7 374.8,90.7 367.7,100.7 358.2,110.7 353.5,120.7 352.5,130.7 358.2,144 367.7,152.3 396.1,164 443.5,180.7 490.9,199 524.1,210.7 562,227.3 595.2,244 618.9,260.7 626,270.7 621.3,280.7 604.7,287.3 562,294 514.6,299 443.5,305.7 381.9,310.7 367.7,315.7 365.3,327.3 348.8,334 315.6,344 277.7,350.7 239.7,357.3 220.8,364 206.6,374 199.5,382.3 197.1,390.7 192.4,397.3 199.5,404 201.8,414 204.2,427.3 211.3,437.3 220.8,450.7 231,472"/>
<path d="M439 14H472M425 25.7H477M422 34H453M409 55.7H427M384 81.3H458M375 90.7H403M369 98.3H427M354 120H375M353 133.3H370"/>
<path d="M436 5L450 4L462 6L468 10L458 14L446 19L436 24L430 30" stroke-width="4.5"/>
</g>
</g>
<use href="#axes"/>
</g>
<use href="#cbar" x="891.7" y="1249.1"/>
<text x="189.7" y="1245.3" text-anchor="middle" style="fill:#ff0000">-180dB</text>
<text x="335.7" y="1245.3" text-anchor="middle" style="fill:#ff0000">-160dB</text>
<text x="481.7" y="1245.3" text-anchor="middle" style="fill:#ff0000">-140dB</text>
<text x="627.4" y="1245.3" text-anchor="middle" style="fill:#ff0000">-120dB</text>
<text x="773.3" y="1245.3" text-anchor="middle" style="fill:#ff0000">-100dB</text>
<text x="103" y="1340" text-anchor="end">10<tspan font-size="14.5" dy="-8.5">1</tspan></text>
<text x="103" y="1457.3" text-anchor="end">10<tspan font-size="14.5" dy="-8.5">0</tspan></text>
<text x="103" y="1574.6" text-anchor="end">10<tspan font-size="14.5" dy="-8.5">−1</tspan></text>
<text x="103" y="1691.9" text-anchor="end">10<tspan font-size="14.5" dy="-8.5">−2</tspan></text>
<g text-anchor="middle">
<text x="116.7" y="1749">1</text><text x="165.3" y="1749">3</text><text x="214" y="1749">5</text><text x="262.6" y="1749">7</text><text x="311.3" y="1749">9</text><text x="359.9" y="1749">11</text><text x="408.5" y="1749">13</text><text x="457.2" y="1749">15</text><text x="505.8" y="1749">17</text><text x="554.5" y="1749">19</text><text x="603.1" y="1749">21</text><text x="651.7" y="1749">23</text><text x="700.4" y="1749">25</text><text x="749" y="1749">27</text><text x="797.7" y="1749">29</text><text x="846.3" y="1749">31</text>
<text x="480" y="1777.9">November 2025 GB LRW 00 HHZ</text>
<text transform="translate(40,1483.75) rotate(-90)">f [Hz]</text>
<text transform="translate(987,1483.75) rotate(-90)">residual [dB] from average curve</text>
</g>
<text x="930.5" y="1256.7">20</text><text x="930.5" y="1350.6">15</text><text x="930.5" y="1444.4">10</text><text x="930.5" y="1538.3">5</text><text x="930.5" y="1632.1">0</text><text x="930.5" y="1726">−5</text>
</svg>
</body></html>
